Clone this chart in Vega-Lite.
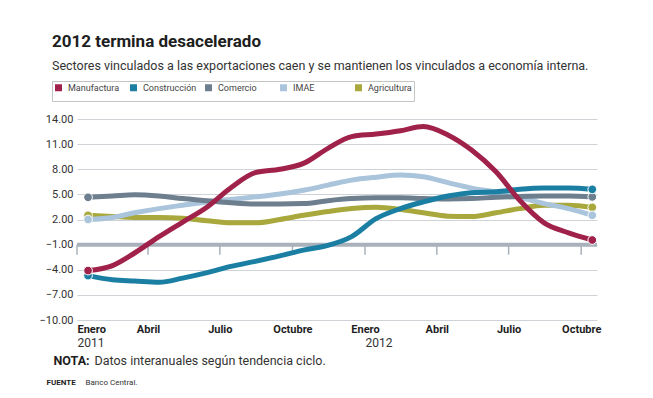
{
  "$schema": "https://vega.github.io/schema/vega-lite/v6.json",
  "width": 520,
  "height": 201,
  "autosize": {"type": "none"},
  "padding": {"left": 77, "top": 119, "right": 56, "bottom": 78},
  "background": "white",
  "title": {
    "text": "2012 termina desacelerado",
    "subtitle": "Sectores vinculados a las exportaciones caen y se mantienen los vinculados a economía interna.",
    "anchor": "start",
    "frame": "group",
    "dx": -25,
    "offset": 7,
    "fontSize": 17,
    "fontWeight": "bold",
    "color": "#1e1e1e",
    "subtitleFontSize": 12.5,
    "subtitleColor": "#333333",
    "subtitlePadding": 9
  },
  "config": {
    "font": "Roboto, sans-serif",
    "view": {"stroke": null},
    "axis": {"domain": false, "ticks": false, "grid": false}
  },
  "datasets": {
    "series": [
      {"s": "Agricultura", "d": "2011-01-15", "v": 2.5},
      {"s": "Agricultura", "d": "2011-02-15", "v": 2.35},
      {"s": "Agricultura", "d": "2011-03-15", "v": 2.25},
      {"s": "Agricultura", "d": "2011-04-15", "v": 2.25},
      {"s": "Agricultura", "d": "2011-05-15", "v": 2.15},
      {"s": "Agricultura", "d": "2011-06-15", "v": 1.85},
      {"s": "Agricultura", "d": "2011-07-15", "v": 1.6},
      {"s": "Agricultura", "d": "2011-08-15", "v": 1.6},
      {"s": "Agricultura", "d": "2011-09-15", "v": 2.0},
      {"s": "Agricultura", "d": "2011-10-15", "v": 2.5},
      {"s": "Agricultura", "d": "2011-11-15", "v": 2.95},
      {"s": "Agricultura", "d": "2011-12-15", "v": 3.3},
      {"s": "Agricultura", "d": "2012-01-15", "v": 3.45},
      {"s": "Agricultura", "d": "2012-02-15", "v": 3.2},
      {"s": "Agricultura", "d": "2012-03-15", "v": 2.8},
      {"s": "Agricultura", "d": "2012-04-15", "v": 2.4},
      {"s": "Agricultura", "d": "2012-05-15", "v": 2.35},
      {"s": "Agricultura", "d": "2012-06-15", "v": 2.8},
      {"s": "Agricultura", "d": "2012-07-15", "v": 3.3},
      {"s": "Agricultura", "d": "2012-08-15", "v": 3.7},
      {"s": "Agricultura", "d": "2012-09-15", "v": 3.7},
      {"s": "Agricultura", "d": "2012-10-15", "v": 3.45},
      {"s": "IMAE", "d": "2011-01-15", "v": 2.0},
      {"s": "IMAE", "d": "2011-02-15", "v": 2.25},
      {"s": "IMAE", "d": "2011-03-15", "v": 2.8},
      {"s": "IMAE", "d": "2011-04-15", "v": 3.3},
      {"s": "IMAE", "d": "2011-05-15", "v": 3.7},
      {"s": "IMAE", "d": "2011-06-15", "v": 4.1},
      {"s": "IMAE", "d": "2011-07-15", "v": 4.4},
      {"s": "IMAE", "d": "2011-08-15", "v": 4.7},
      {"s": "IMAE", "d": "2011-09-15", "v": 5.05},
      {"s": "IMAE", "d": "2011-10-15", "v": 5.5},
      {"s": "IMAE", "d": "2011-11-15", "v": 6.1},
      {"s": "IMAE", "d": "2011-12-15", "v": 6.7},
      {"s": "IMAE", "d": "2012-01-15", "v": 7.05},
      {"s": "IMAE", "d": "2012-02-15", "v": 7.3},
      {"s": "IMAE", "d": "2012-03-15", "v": 7.1},
      {"s": "IMAE", "d": "2012-04-15", "v": 6.4},
      {"s": "IMAE", "d": "2012-05-15", "v": 5.75},
      {"s": "IMAE", "d": "2012-06-15", "v": 5.25},
      {"s": "IMAE", "d": "2012-07-15", "v": 4.65},
      {"s": "IMAE", "d": "2012-08-15", "v": 3.9},
      {"s": "IMAE", "d": "2012-09-15", "v": 3.3},
      {"s": "IMAE", "d": "2012-10-15", "v": 2.5},
      {"s": "Comercio", "d": "2011-01-15", "v": 4.65},
      {"s": "Comercio", "d": "2011-02-15", "v": 4.8},
      {"s": "Comercio", "d": "2011-03-15", "v": 4.95},
      {"s": "Comercio", "d": "2011-04-15", "v": 4.8},
      {"s": "Comercio", "d": "2011-05-15", "v": 4.5},
      {"s": "Comercio", "d": "2011-06-15", "v": 4.25},
      {"s": "Comercio", "d": "2011-07-15", "v": 4.0},
      {"s": "Comercio", "d": "2011-08-15", "v": 3.85},
      {"s": "Comercio", "d": "2011-09-15", "v": 3.85},
      {"s": "Comercio", "d": "2011-10-15", "v": 3.9},
      {"s": "Comercio", "d": "2011-11-15", "v": 4.25},
      {"s": "Comercio", "d": "2011-12-15", "v": 4.5},
      {"s": "Comercio", "d": "2012-01-15", "v": 4.6},
      {"s": "Comercio", "d": "2012-02-15", "v": 4.6},
      {"s": "Comercio", "d": "2012-03-15", "v": 4.5},
      {"s": "Comercio", "d": "2012-04-15", "v": 4.45},
      {"s": "Comercio", "d": "2012-05-15", "v": 4.5},
      {"s": "Comercio", "d": "2012-06-15", "v": 4.65},
      {"s": "Comercio", "d": "2012-07-15", "v": 4.75},
      {"s": "Comercio", "d": "2012-08-15", "v": 4.8},
      {"s": "Comercio", "d": "2012-09-15", "v": 4.8},
      {"s": "Comercio", "d": "2012-10-15", "v": 4.7},
      {"s": "Construcción", "d": "2011-01-15", "v": -4.7},
      {"s": "Construcción", "d": "2011-02-15", "v": -5.2},
      {"s": "Construcción", "d": "2011-03-15", "v": -5.35},
      {"s": "Construcción", "d": "2011-04-15", "v": -5.5},
      {"s": "Construcción", "d": "2011-05-15", "v": -5.0},
      {"s": "Construcción", "d": "2011-06-15", "v": -4.35},
      {"s": "Construcción", "d": "2011-07-15", "v": -3.6},
      {"s": "Construcción", "d": "2011-08-15", "v": -3.0},
      {"s": "Construcción", "d": "2011-09-15", "v": -2.35},
      {"s": "Construcción", "d": "2011-10-15", "v": -1.65},
      {"s": "Construcción", "d": "2011-11-15", "v": -1.1},
      {"s": "Construcción", "d": "2011-12-15", "v": -0.05},
      {"s": "Construcción", "d": "2012-01-15", "v": 2.1},
      {"s": "Construcción", "d": "2012-02-15", "v": 3.3},
      {"s": "Construcción", "d": "2012-03-15", "v": 4.1},
      {"s": "Construcción", "d": "2012-04-15", "v": 4.8},
      {"s": "Construcción", "d": "2012-05-15", "v": 5.2},
      {"s": "Construcción", "d": "2012-06-15", "v": 5.3},
      {"s": "Construcción", "d": "2012-07-15", "v": 5.6},
      {"s": "Construcción", "d": "2012-08-15", "v": 5.75},
      {"s": "Construcción", "d": "2012-09-15", "v": 5.75},
      {"s": "Construcción", "d": "2012-10-15", "v": 5.6},
      {"s": "Manufactura", "d": "2011-01-15", "v": -4.1},
      {"s": "Manufactura", "d": "2011-02-15", "v": -3.5},
      {"s": "Manufactura", "d": "2011-03-15", "v": -2.0},
      {"s": "Manufactura", "d": "2011-04-15", "v": -0.05},
      {"s": "Manufactura", "d": "2011-05-15", "v": 1.7},
      {"s": "Manufactura", "d": "2011-06-15", "v": 3.5},
      {"s": "Manufactura", "d": "2011-07-15", "v": 5.8},
      {"s": "Manufactura", "d": "2011-08-15", "v": 7.6},
      {"s": "Manufactura", "d": "2011-09-15", "v": 8.0},
      {"s": "Manufactura", "d": "2011-10-15", "v": 8.7},
      {"s": "Manufactura", "d": "2011-11-15", "v": 10.5},
      {"s": "Manufactura", "d": "2011-12-15", "v": 11.9},
      {"s": "Manufactura", "d": "2012-01-15", "v": 12.2},
      {"s": "Manufactura", "d": "2012-02-15", "v": 12.6},
      {"s": "Manufactura", "d": "2012-03-15", "v": 13.1},
      {"s": "Manufactura", "d": "2012-04-15", "v": 12.1},
      {"s": "Manufactura", "d": "2012-05-15", "v": 10.3},
      {"s": "Manufactura", "d": "2012-06-15", "v": 7.7},
      {"s": "Manufactura", "d": "2012-07-15", "v": 4.3},
      {"s": "Manufactura", "d": "2012-08-15", "v": 1.6},
      {"s": "Manufactura", "d": "2012-09-15", "v": 0.4},
      {"s": "Manufactura", "d": "2012-10-15", "v": -0.45}
    ],
    "quarters": [
      {"q": "2011-01-01"}, {"q": "2011-04-01"}, {"q": "2011-07-01"}, {"q": "2011-10-01"},
      {"q": "2012-01-01"}, {"q": "2012-04-01"}, {"q": "2012-07-01"}, {"q": "2012-10-01"}
    ],
    "baseline": [{"b": -1}]
  },
  "resolve": {"axis": {"x": "independent", "y": "independent"}},
  "layer": [
    {
      "data": {"name": "baseline"},
      "mark": {"type": "rule", "color": "#a9b1ba", "strokeWidth": 4},
      "encoding": {
        "y": {"field": "b", "type": "quantitative", "axis": null,
              "scale": {"domain": [-10, 14], "nice": false, "zero": false}}
      }
    },
    {
      "data": {"name": "quarters"},
      "mark": {"type": "rule", "color": "#a9b1ba", "strokeWidth": 1.5},
      "encoding": {
        "x": {"field": "q", "type": "temporal", "axis": null,
              "scale": {"type": "utc", "domain": [{"year": 2011, "month": 1, "date": 1, "utc": true}, {"year": 2012, "month": 10, "date": 21, "utc": true}]}},
        "y": {"datum": -1, "type": "quantitative", "axis": null,
              "scale": {"domain": [-10, 14], "nice": false, "zero": false}},
        "y2": {"datum": -2.2}
      }
    },
    {
      "data": {"name": "series"},
      "mark": {"type": "line", "strokeWidth": 5, "interpolate": "monotone", "strokeCap": "round", "strokeJoin": "round"},
      "encoding": {
        "x": {"field": "d", "type": "temporal",
              "scale": {"type": "utc", "domain": [{"year": 2011, "month": 1, "date": 1, "utc": true}, {"year": 2012, "month": 10, "date": 21, "utc": true}]},
              "axis": {
                "orient": "bottom",
                "values": [
                  {"year": 2011, "month": 1, "date": 1, "utc": true},
                  {"year": 2011, "month": 4, "date": 1, "utc": true},
                  {"year": 2011, "month": 7, "date": 1, "utc": true},
                  {"year": 2011, "month": 10, "date": 1, "utc": true},
                  {"year": 2012, "month": 1, "date": 1, "utc": true},
                  {"year": 2012, "month": 4, "date": 1, "utc": true},
                  {"year": 2012, "month": 7, "date": 1, "utc": true},
                  {"year": 2012, "month": 10, "date": 1, "utc": true}
                ],
                "labelExpr": "utcmonth(datum.value) == 0 ? 'Enero' : utcmonth(datum.value) == 3 ? 'Abril' : utcmonth(datum.value) == 6 ? 'Julio' : 'Octubre'",
                "labelFontWeight": "bold",
                "labelFontSize": 11,
                "labelColor": "#1e1e1e",
                "labelFlush": true,
                "labelPadding": 3,
                "labelOverlap": false,
                "title": "NOTA:",
                "titleX": -24,
                "titleY": 40,
                "titleAngle": 0,
                "titleAlign": "left",
                "titleBaseline": "middle",
                "titleFontSize": 12.5,
                "titleFontWeight": "bold",
                "titleColor": "#1e1e1e"
              }},
        "y": {"field": "v", "type": "quantitative",
              "scale": {"domain": [-10, 14], "nice": false, "zero": false},
              "axis": {
                "orient": "left",
                "values": [-10, -7, -4, -1, 2, 5, 8, 11, 14],
                "format": ".2f",
                "grid": true,
                "gridColor": "#cfd3d7",
                "gridWidth": 1,
                "labelFontSize": 11,
                "labelColor": "#333333",
                "labelPadding": 4,
                "title": "FUENTE",
                "titleX": -31,
                "titleY": 263,
                "titleAngle": 0,
                "titleAlign": "left",
                "titleBaseline": "middle",
                "titleFontSize": 8,
                "titleFontWeight": "bold",
                "titleColor": "#1e1e1e"
              }},
        "stroke": {"field": "s", "type": "nominal",
                   "scale": {"domain": ["Manufactura", "Construcción", "Comercio", "IMAE", "Agricultura"],
                             "range": ["#a0214a", "#1a7fa2", "#6d7e8e", "#a9c4db", "#a8a83c"]},
                   "legend": {
                     "title": null,
                     "orient": "none",
                     "legendX": -25,
                     "legendY": -38,
                     "direction": "horizontal",
                     "gridAlign": "all",
                     "symbolType": "square",
                     "symbolSize": 4,
                     "symbolStrokeWidth": 5,
                     "labelFontSize": 9,
                     "labelColor": "#444444",
                     "labelOffset": 5,
                     "columnPadding": 0,
                     "strokeColor": "#c4c4c4",
                     "padding": 2
                   }}
      }
    },
    {
      "data": {"name": "series"},
      "transform": [
        {"filter": "(utcyear(datum.d) == 2011 && utcmonth(datum.d) == 0) || (utcyear(datum.d) == 2012 && utcmonth(datum.d) == 9)"}
      ],
      "mark": {"type": "point", "filled": true, "shape": "circle", "size": 75, "stroke": "white", "strokeWidth": 1, "opacity": 1},
      "encoding": {
        "x": {"field": "d", "type": "temporal",
              "scale": {"type": "utc", "domain": [{"year": 2011, "month": 1, "date": 1, "utc": true}, {"year": 2012, "month": 10, "date": 21, "utc": true}]},
              "axis": {
                "orient": "bottom",
                "offset": 14,
                "values": [
                  {"year": 2011, "month": 1, "date": 1, "utc": true},
                  {"year": 2012, "month": 1, "date": 1, "utc": true}
                ],
                "labelExpr": "utcFormat(datum.value, '%Y')",
                "labelAlign": "left",
                "labelDx": 3,
                "labelFlush": false,
                "labelFontSize": 12,
                "labelColor": "#333333",
                "labelPadding": 3,
                "title": "Datos interanuales según tendencia ciclo.",
                "titleX": 17,
                "titleY": 26,
                "titleAngle": 0,
                "titleAlign": "left",
                "titleBaseline": "middle",
                "titleFontSize": 12.5,
                "titleFontWeight": "normal",
                "titleColor": "#333333"
              }},
        "y": {"field": "v", "type": "quantitative",
              "scale": {"domain": [-10, 14], "nice": false, "zero": false},
              "axis": {
                "orient": "left",
                "labels": false,
                "grid": false,
                "title": "Banco Central.",
                "titleX": 8,
                "titleY": 263,
                "titleAngle": 0,
                "titleAlign": "left",
                "titleBaseline": "middle",
                "titleFontSize": 8,
                "titleFontWeight": "normal",
                "titleColor": "#333333"
              }},
        "fill": {"field": "s", "type": "nominal", "legend": null,
                 "scale": {"domain": ["Manufactura", "Construcción", "Comercio", "IMAE", "Agricultura"],
                           "range": ["#a0214a", "#1a7fa2", "#6d7e8e", "#a9c4db", "#a8a83c"]}}
      }
    }
  ]
}
